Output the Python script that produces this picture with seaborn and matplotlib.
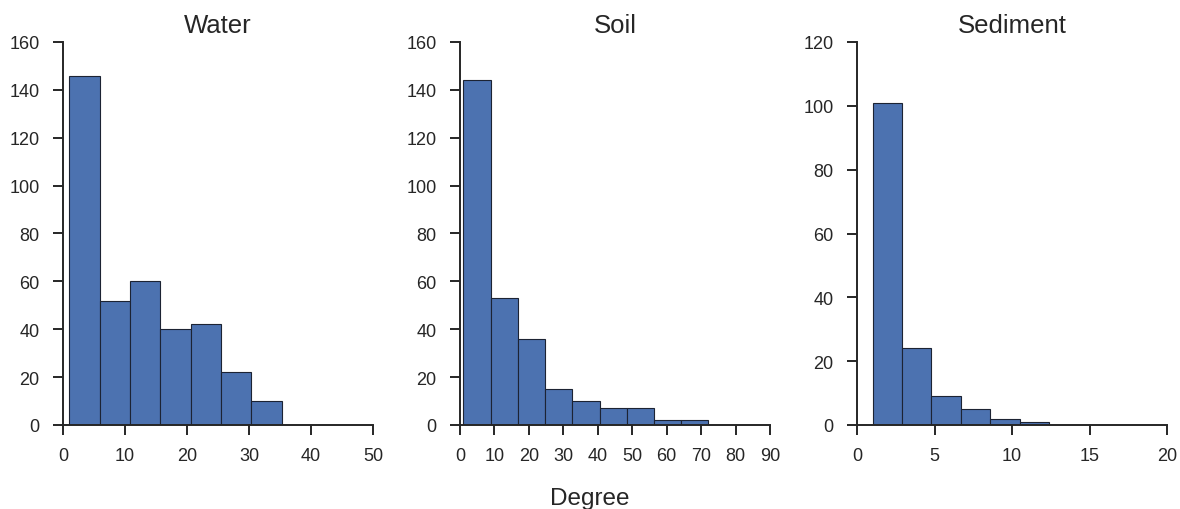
import numpy as np
import pandas as pd
import matplotlib
matplotlib.use("Agg")
import matplotlib.pyplot as plt
import seaborn as sns

# bin edges and counts
water_edges = [1, 5.9, 10.8, 15.7, 20.6, 25.5, 30.4, 35.3]
water_counts = [146, 52, 60, 40, 42, 22, 10]

soil_edges = [1, 8.9, 16.8, 24.7, 32.6, 40.5, 48.4, 56.3, 64.2, 72.1]
soil_counts = [144, 53, 36, 15, 10, 7, 7, 2, 2]

sediment_edges = [1, 2.9, 4.8, 6.7, 8.6, 10.5, 12.4]
sediment_counts = [101, 24, 9, 5, 2, 1]

titles = ["Water", "Soil", "Sediment"]
x_limits = [(0, 50, 10), (0, 90, 10), (0, 20, 5)]
y_limits = [(0, 160, 20), (0, 160, 20), (0, 120, 20)]

sns.set_style("ticks")
plt.rcParams["font.family"] = ["Liberation Sans", "DejaVu Sans"]
plt.rcParams["axes.linewidth"] = 1.4
plt.rcParams["xtick.major.width"] = 1.4
plt.rcParams["ytick.major.width"] = 1.4
plt.rcParams["xtick.major.size"] = 7.5
plt.rcParams["ytick.major.size"] = 7.5
plt.rcParams["axes.edgecolor"] = "#262626"
plt.rcParams["text.color"] = "#262626"
plt.rcParams["xtick.color"] = "#262626"
plt.rcParams["ytick.color"] = "#262626"

fig = plt.figure(figsize=(11.8, 5.1), dpi=100)
lefts = [63 / 1180, 460 / 1180, 857 / 1180]
width = 310 / 1180
bottom = 1 - 426 / 510
height = (426 - 43) / 510

data = [(water_edges, water_counts), (soil_edges, soil_counts), (sediment_edges, sediment_counts)]

for i, (edges, counts) in enumerate(data):
    ax = fig.add_axes([lefts[i], bottom, width, height])
    e = np.array(edges)
    df = pd.DataFrame({"degree": (e[:-1] + e[1:]) / 2, "count": counts})
    sns.histplot(data=df, x="degree", weights="count", bins=list(edges), ax=ax,
                 color="#4C72B0", alpha=1, edgecolor="#1c2333", linewidth=0.8)
    x0, x1, xs = x_limits[i]
    y0, y1, ys = y_limits[i]
    ax.set_xlim(x0, x1)
    ax.set_ylim(y0, y1)
    ax.set_xticks(np.arange(x0, x1 + 1, xs))
    ax.set_yticks(np.arange(y0, y1 + 1, ys))
    ax.tick_params(axis="x", labelsize=13, pad=8)
    ax.tick_params(axis="y", labelsize=13, pad=9.5)
    ax.set_xlabel("")
    ax.set_ylabel("")
    ax.set_title(titles[i], fontsize=18.5, pad=7)
    sns.despine(ax=ax)

fig.text(0.5, 5 / 510, "Degree", ha="center", va="baseline", fontsize=17.5)

plt.savefig("out.png", dpi=100)
